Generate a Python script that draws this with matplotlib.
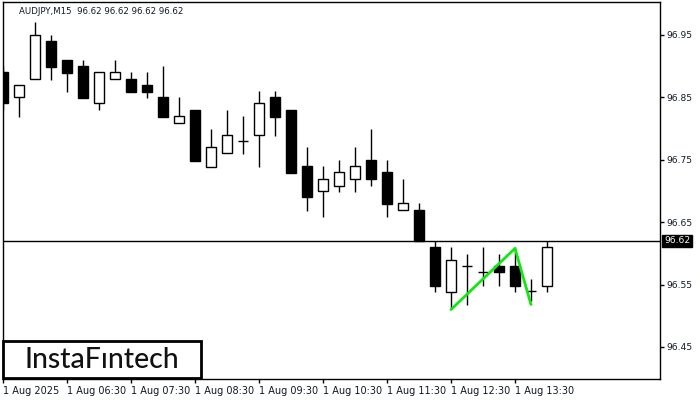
import matplotlib
matplotlib.use("Agg")
import matplotlib.pyplot as plt
from matplotlib.patches import Rectangle

# ---- data ----
opens  = [96.891, 96.851, 96.879, 96.940, 96.910, 96.900, 96.841, 96.879, 96.879, 96.870,
          96.851, 96.809, 96.830, 96.738, 96.761, 96.780, 96.790, 96.851, 96.830, 96.740,
          96.700, 96.708, 96.719, 96.750, 96.730, 96.669, 96.669, 96.610, 96.538, 96.580,
          96.570, 96.580, 96.580, 96.540, 96.548]
highs  = [96.900, 96.870, 96.971, 96.950, 96.910, 96.910, 96.891, 96.910, 96.891, 96.891,
          96.900, 96.851, 96.830, 96.799, 96.830, 96.820, 96.860, 96.860, 96.830, 96.771,
          96.740, 96.750, 96.771, 96.799, 96.750, 96.719, 96.681, 96.620, 96.610, 96.599,
          96.610, 96.599, 96.610, 96.559, 96.620]
lows   = [96.830, 96.819, 96.879, 96.878, 96.859, 96.849, 96.830, 96.879, 96.859, 96.849,
          96.819, 96.809, 96.748, 96.738, 96.761, 96.759, 96.738, 96.788, 96.729, 96.668,
          96.658, 96.698, 96.698, 96.708, 96.658, 96.669, 96.620, 96.538, 96.511, 96.517,
          96.548, 96.548, 96.538, 96.524, 96.538]
closes = [96.841, 96.870, 96.950, 96.899, 96.889, 96.849, 96.891, 96.891, 96.859, 96.859,
          96.819, 96.820, 96.748, 96.771, 96.790, 96.780, 96.841, 96.819, 96.729, 96.690,
          96.719, 96.730, 96.740, 96.719, 96.679, 96.681, 96.620, 96.548, 96.589, 96.580,
          96.570, 96.570, 96.548, 96.540, 96.610]

pattern_idx = [28, 32, 33]
pattern_px  = [96.510, 96.608, 96.518]

current_price = 96.62
title_text = "AUDJPY,M15  96.62 96.62 96.62 96.62"

xtick_pos = [0, 4, 8, 12, 16, 20, 24, 28, 32]
xtick_labels = ["1 Aug 2025", "1 Aug 06:30", "1 Aug 07:30", "1 Aug 08:30", "1 Aug 09:30",
                "1 Aug 10:30", "1 Aug 11:30", "1 Aug 12:30", "1 Aug 13:30"]
ytick_vals = [96.45, 96.55, 96.65, 96.75, 96.85, 96.95]

# ---- figure ----
W, H = 700, 400
fig = plt.figure(figsize=(7, 4), dpi=100)
fig.patch.set_facecolor("white")
left, right, top, bottom = 2.5, 660, 2, 379
ax = fig.add_axes([left / W, 1 - bottom / H, (right - left) / W, (bottom - top) / H])
ax.set_facecolor("white")

bw = 0.625
for i, (o, h, l, c) in enumerate(zip(opens, highs, lows, closes)):
    ax.vlines(i, l, h, color="black", lw=1, zorder=2)
    if o == c:
        ax.hlines(o, i - bw / 2, i + bw / 2, color="black", lw=1, zorder=3)
    else:
        fc = "white" if c > o else "black"
        ax.add_patch(Rectangle((i - bw / 2, min(o, c)), bw, abs(c - o),
                               facecolor=fc, edgecolor="black", lw=1, zorder=3))

ax.axhline(current_price, color="black", lw=1, zorder=1)
ax.plot(pattern_idx, pattern_px, color="#14e614", lw=2, zorder=4, solid_capstyle="round")

ax.set_xlim(-0.03, (right - 3) / 16)
ax.set_ylim(96.95 - (bottom - 35) / 624, 96.95 + (35 - top) / 624)

for s in ax.spines.values():
    s.set_linewidth(1)
    s.set_color("black")

ax.yaxis.tick_right()
ax.set_yticks(ytick_vals)
ax.set_yticklabels([f"{v:.2f}" for v in ytick_vals], fontsize=6.6, color="#101828")
ax.tick_params(axis="y", length=3, width=1, pad=1.5)

ax.set_xticks(xtick_pos)
ax.set_xticklabels(xtick_labels, fontsize=7, ha="left", color="#101828")
ax.tick_params(axis="x", length=3, width=1, pad=2)

# title
fig.text(19 / W, 1 - 11 / H, title_text, fontsize=6.2, va="center", ha="left", color="#101828")

# current price label
ax.annotate(f"{current_price:.2f}", xy=(1, current_price), xycoords=("axes fraction", "data"),
            xytext=(3, 0), textcoords="offset points", fontsize=6.6, color="white",
            va="center", ha="left",
            bbox=dict(boxstyle="square,pad=0.2", facecolor="black", edgecolor="black"))

# logo
fig.patches.append(Rectangle((3 / W, 1 - 378 / H), 198 / W, 37 / H, transform=fig.transFigure,
                             facecolor="white", edgecolor="black", lw=2, zorder=10))
fig.text(102 / W, 1 - 359.5 / H, "InstaFıntech", fontsize=20.5, ha="center", va="center",
         color="#111111", family="Lato", fontweight="medium", zorder=11)

fig.savefig("out.png", dpi=100)
